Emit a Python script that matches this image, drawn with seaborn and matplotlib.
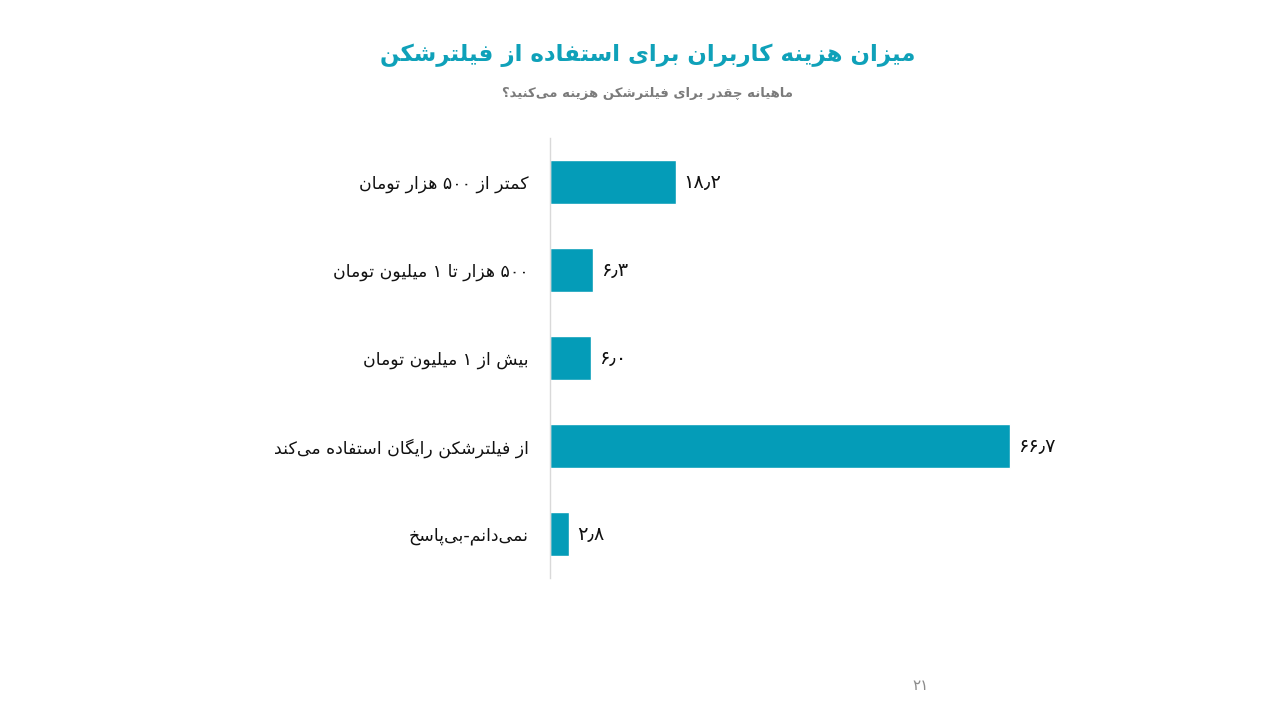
import matplotlib
matplotlib.use("Agg")
import matplotlib.pyplot as plt
import seaborn as sns
import pandas as pd

# ---------------- data ----------------
categories = [
    "کمتر از ۵۰۰ هزار تومان",
    "۵۰۰ هزار تا ۱ میلیون تومان",
    "بیش از ۱ میلیون تومان",
    "از فیلترشکن رایگان استفاده می‌کند",
    "نمی‌دانم-بی‌پاسخ",
]
values = [18.2, 6.3, 6.0, 66.7, 2.8]
value_labels = ["۱۸٫۲", "۶٫۳", "۶٫۰", "۶۶٫۷", "۲٫۸"]
title = "میزان هزینه کاربران برای استفاده از فیلترشکن"
subtitle = "ماهیانه چقدر برای فیلترشکن هزینه می‌کنید؟"
page_number = "۲۱"

# ------------- minimal Arabic/Persian shaping + RTL ordering -------------
FORMS = {
    '\u0627': (0xFE8D, 0xFE8E), '\u0622': (0xFE81, 0xFE82),
    '\u062F': (0xFEA9, 0xFEAA), '\u0630': (0xFEAB, 0xFEAC),
    '\u0631': (0xFEAD, 0xFEAE), '\u0632': (0xFEAF, 0xFEB0),
    '\u0698': (0xFB8A, 0xFB8B), '\u0648': (0xFEED, 0xFEEE),
    '\u0628': (0xFE8F, 0xFE90, 0xFE91, 0xFE92),
    '\u067E': (0xFB56, 0xFB57, 0xFB58, 0xFB59),
    '\u062A': (0xFE95, 0xFE96, 0xFE97, 0xFE98),
    '\u062B': (0xFE99, 0xFE9A, 0xFE9B, 0xFE9C),
    '\u062C': (0xFE9D, 0xFE9E, 0xFE9F, 0xFEA0),
    '\u0686': (0xFB7A, 0xFB7B, 0xFB7C, 0xFB7D),
    '\u062D': (0xFEA1, 0xFEA2, 0xFEA3, 0xFEA4),
    '\u062E': (0xFEA5, 0xFEA6, 0xFEA7, 0xFEA8),
    '\u0633': (0xFEB1, 0xFEB2, 0xFEB3, 0xFEB4),
    '\u0634': (0xFEB5, 0xFEB6, 0xFEB7, 0xFEB8),
    '\u0635': (0xFEB9, 0xFEBA, 0xFEBB, 0xFEBC),
    '\u0636': (0xFEBD, 0xFEBE, 0xFEBF, 0xFEC0),
    '\u0637': (0xFEC1, 0xFEC2, 0xFEC3, 0xFEC4),
    '\u0638': (0xFEC5, 0xFEC6, 0xFEC7, 0xFEC8),
    '\u0639': (0xFEC9, 0xFECA, 0xFECB, 0xFECC),
    '\u063A': (0xFECD, 0xFECE, 0xFECF, 0xFED0),
    '\u0641': (0xFED1, 0xFED2, 0xFED3, 0xFED4),
    '\u0642': (0xFED5, 0xFED6, 0xFED7, 0xFED8),
    '\u06A9': (0xFB8E, 0xFB8F, 0xFB90, 0xFB91),
    '\u06AF': (0xFB92, 0xFB93, 0xFB94, 0xFB95),
    '\u0644': (0xFEDD, 0xFEDE, 0xFEDF, 0xFEE0),
    '\u0645': (0xFEE1, 0xFEE2, 0xFEE3, 0xFEE4),
    '\u0646': (0xFEE5, 0xFEE6, 0xFEE7, 0xFEE8),
    '\u0647': (0xFEE9, 0xFEEA, 0xFEEB, 0xFEEC),
    '\u06CC': (0xFBFC, 0xFBFD, 0xFBFE, 0xFBFF),
    '\u064A': (0xFEF1, 0xFEF2, 0xFEF3, 0xFEF4),
    '\u0626': (0xFE89, 0xFE8A, 0xFE8B, 0xFE8C),
}
DIGITS = set("۰۱۲۳۴۵۶۷۸۹0123456789٫.")


def rtl(s):
    out = []
    n = len(s)
    for i, c in enumerate(s):
        f = FORMS.get(c)
        if f is None:
            if c != '\u200c':
                out.append(c)
            continue
        prev = s[i - 1] if i > 0 else None
        nxt = s[i + 1] if i + 1 < n else None
        jp = prev in FORMS and len(FORMS[prev]) == 4
        jn = len(f) == 4 and nxt in FORMS
        if jp and jn:
            out.append(chr(f[3]))
        elif jp:
            out.append(chr(f[1]))
        elif jn:
            out.append(chr(f[2]))
        else:
            out.append(chr(f[0]))
    # visual order: reverse, but keep digit runs left-to-right
    runs, cur, cur_d = [], "", None
    for c in out:
        d = c in DIGITS
        if cur and d != cur_d:
            runs.append((cur, cur_d))
            cur = ""
        cur += c
        cur_d = d
    if cur:
        runs.append((cur, cur_d))
    vis = ""
    for r, d in reversed(runs):
        vis += r if d else r[::-1]
    return vis


# ---------------- plot ----------------
sns.set_theme(style="white")
plt.rcParams["font.family"] = ["DejaVu Sans"]

BAR = "#049cb8"
df = pd.DataFrame({"cat": [rtl(c) for c in categories], "val": values})

fig = plt.figure(figsize=(12.8, 7.2), dpi=100)
ax = fig.add_axes([550 / 1280, 1 - 578 / 720, 552 / 1280, 440 / 720])
sns.barplot(data=df, x="val", y="cat", color=BAR, width=0.5,
            saturation=1, ax=ax, orient="h")
ax.set_xlim(0, 80)
ax.set_ylim(4.5, -0.5)
ax.set_xlabel("")
ax.set_ylabel("")
ax.set_xticks([])
for s in ["top", "right", "bottom"]:
    ax.spines[s].set_visible(False)
ax.spines["left"].set_color("#d9d9d9")
ax.spines["left"].set_linewidth(1)
ax.tick_params(axis="y", length=0, pad=15.5, labelsize=12.5, labelcolor="#111111")

for i, (v, lab) in enumerate(zip(values, value_labels)):
    ax.annotate(lab, (v, i), xytext=(5.5, 0), textcoords="offset points",
                va="center", ha="left", fontsize=14, color="#111111")

fig.text(648 / 1280, 1 - 55 / 720, rtl(title), ha="center", va="center",
         fontsize=16.5, fontweight="bold", color="#0fa1b9")
fig.text(648 / 1280, 1 - 93 / 720, rtl(subtitle), ha="center", va="center",
         fontsize=9.5, fontweight="bold", color="#7b7b7b")
fig.text(921 / 1280, 1 - 685 / 720, page_number, ha="center", va="center",
         fontsize=11, color="#8c8c8c")

fig.savefig("out.png", dpi=100, facecolor="white")
